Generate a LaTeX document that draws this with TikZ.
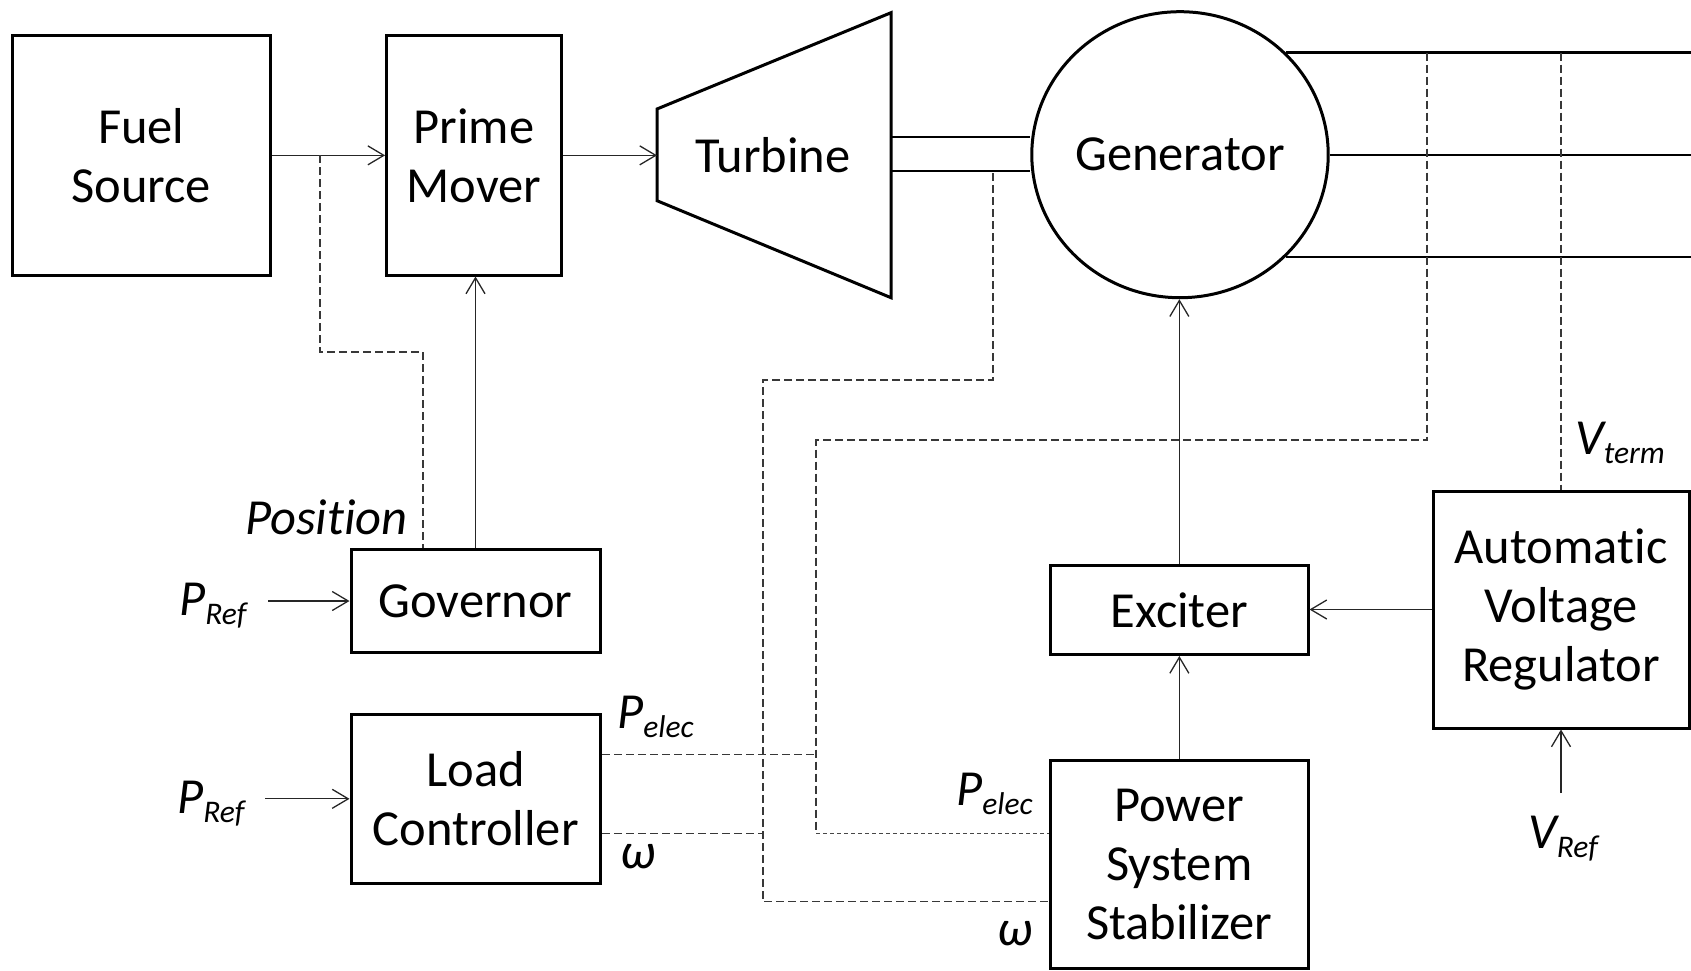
\documentclass[tikz,border=0pt]{standalone}
\usepackage{fontspec}
\setmainfont{Carlito}[Ligatures={NoCommon}]
\usetikzlibrary{arrows.meta,shapes.geometric}
\newcommand\labelfont{\fontsize{50.5}{59}\selectfont}
\newcommand\subfont{\fontsize{31.5}{32}\selectfont\itshape}
\newcommand\sigvar[2]{\textit{#1}\raisebox{-9pt}{\subfont #2}}

\begin{document}
\begin{tikzpicture}[x=1pt,y=-1pt,
  every node/.style={font=\labelfont},
  block/.style={draw, line width=3pt, rectangle, inner sep=0pt, align=center},
  flow/.style={line width=1.3pt, draw=black!85, -{Straight Barb[length=16pt,width=19pt]}},
  link/.style={line width=2.4pt},
  sig/.style={line width=1.3pt, draw=black!78, dash pattern=on 8pt off 4pt},
  finesig/.style={line width=1.2pt, draw=black!72, dash pattern=on 4pt off 3pt},
  lbl/.style={anchor=base west, inner sep=0pt, font=\labelfont\itshape}]

\useasboundingbox (0,0) rectangle (1691,970);

% ---- blocks ----
\node[block, minimum width=257.5pt, minimum height=239.3pt] (fuel) at (141.25,155.35) {Fuel\\Source};
\node[block, minimum width=174.4pt, minimum height=239.3pt] (prime) at (473.8,155.35) {Prime\\Mover};
\node[block, minimum width=249pt, minimum height=103.4pt] (gov) at (475.5,601) {Governor};
\node[block, minimum width=249.6pt, minimum height=169pt] (lc) at (475.8,798.8) {Load\\Controller};
\node[block, minimum width=257.3pt, minimum height=89pt] (exc) at (1179.35,610) {Exciter};
\node[block, minimum width=257.3pt, minimum height=207.4pt] (pss) at (1179.35,864.3) {Power\\System\\Stabilizer};
\node[block, minimum width=256pt, minimum height=237pt] (avr) at (1561,609.5) {Automatic\\Voltage\\Regulator};

% turbine outline
\coordinate (tA) at (657,109);
\coordinate (tB) at (891,12.7);
\coordinate (tC) at (891,297.7);
\coordinate (tD) at (657,200.7);
\draw[line width=3pt, line join=miter] (tA) -- (tB) -- (tC) -- (tD) -- cycle;
\node (turb) at (773,155.35) {Turbine};

% generator
\node[draw, ellipse, line width=3pt, minimum width=294pt, minimum height=286pt, inner sep=0pt] (gen) at (1180,154.7) {Generator};

% ---- shaft and terminals ----
\coordinate (tS1) at (891,136.7);
\coordinate (tS2) at (891,170.7);
\draw[link] (tS1) -- (tS1 -| gen.west);
\draw[link] (tS2) -- (tS2 -| gen.west);

\coordinate (edge) at (1691,0);
\draw[link] (gen.44) -- (gen.44 -| edge);
\draw[link] (gen.east) -- (gen.east -| edge);
\draw[link] (gen.-44) -- (gen.-44 -| edge);

% ---- main flow ----
\draw[flow] (fuel.east) -- (prime.west);
\draw[flow] (prime.east) -- (prime.east -| tA);
\draw[flow] (gov.north) -- (gov.north |- prime.south);
\draw[flow] (exc.north) -- (exc.north |- gen.south);
\draw[flow] (pss.north) -- (pss.north |- exc.south);
\draw[flow] (avr.west) -- (avr.west -| exc.east);

% references
\coordinate (prg) at (268,601);
\coordinate (prl) at (265,798.8);
\coordinate (vrf) at (1561,793);
\draw[flow] (prg) -- (gov.west);
\draw[flow] (prl) -- (lc.west);
\draw[flow] (vrf) -- (avr.south);

% ---- measured signals ----
\coordinate (fueltap) at (320,155.35);
\coordinate (posc) at (423,352);
\draw[sig] (fueltap) |- (posc) -- (posc |- gov.north);

\coordinate (shafttap) at (993,173);
\coordinate (wc1) at (763,380);
\coordinate (yw) at (0,901.8);
\coordinate (yw2) at (0,833.3);
\coordinate (yp) at (0,754.3);
\draw[sig] (shafttap) |- (wc1) |- (pss.west |- yw);
\draw[sig] (lc.east |- yw2) -- (wc1 |- yw2);

\coordinate (xA) at (1427,0);
\coordinate (pc1) at (816,440);
\draw[sig] (gen.44 -| xA) |- (pc1) -- (pc1 |- yw2);
\draw[finesig] (pc1 |- yw2) -- (pss.west |- yw2);
\draw[sig] (lc.east |- yp) -- (pc1 |- yp);

\draw[sig] (gen.44 -| avr.north) -- (avr.north);

% ---- labels ----
\node[lbl] (lpos) at (245,534) {Position};
\node[lbl] (lprg) at (179,615) {\sigvar{P}{Ref}};
\node[lbl] (lprl) at (177,813) {\sigvar{P}{Ref}};
\node[lbl] (lpelc) at (617,728) {\sigvar{P}{elec}};
\node[lbl] (lwlc) at (620,868) {ω};
\node[lbl] (lpelp) at (956,805) {\sigvar{P}{elec}};
\node[lbl] (lwp) at (997,945) {ω};
\node[lbl] (lvt) at (1575,454) {\sigvar{V}{term}};
\node[lbl] (lvr) at (1528,848) {\sigvar{V}{Ref}};
\end{tikzpicture}
\end{document}
